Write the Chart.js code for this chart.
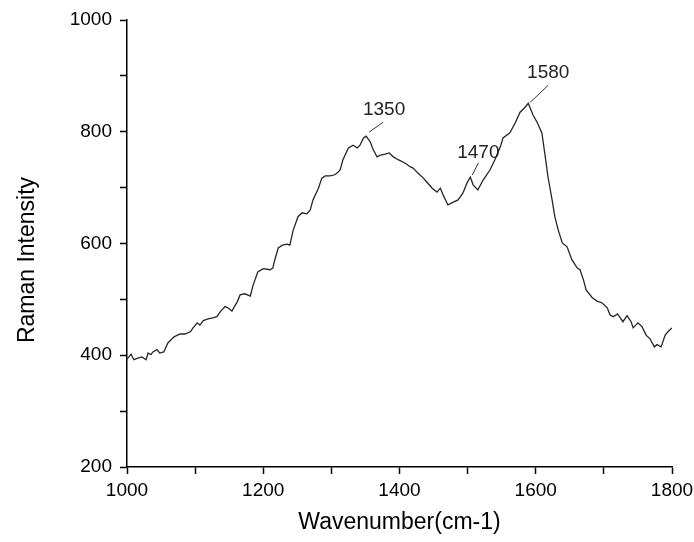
<!DOCTYPE html>
<html lang="en">
<head>
  <meta charset="UTF-8">
  <title>Raman Spectrum</title>
  <script src="https://cdn.jsdelivr.net/npm/chart.js"></script>
  <style>
    body { margin: 0; background: #fff; }
  </style>
</head>
<body>
  <canvas id="ramanChart" width="694" height="542"></canvas>
  <script>
    // Values
    const wavenumbers = [1000, 1006, 1010, 1016, 1022, 1028, 1031, 1035, 1038, 1044, 1048, 1054, 1060, 1069, 1078, 1085, 1093, 1097, 1103, 1107,
      1112, 1119, 1126, 1132, 1137, 1144, 1148, 1154, 1162, 1166, 1173, 1181, 1185, 1192, 1200, 1210, 1214, 1217, 1222, 1228,
      1235, 1239, 1244, 1251, 1257, 1264, 1269, 1273, 1281, 1286, 1291, 1298, 1305, 1310, 1313, 1317, 1325, 1332, 1338, 1342,
      1347, 1351, 1357, 1361, 1367, 1372, 1379, 1385, 1391, 1398, 1408, 1416, 1420, 1427, 1435, 1440, 1448, 1455, 1460, 1464,
      1471, 1479, 1486, 1493, 1499, 1504, 1508, 1515, 1523, 1533, 1540, 1548, 1552, 1562, 1570, 1577, 1583, 1589, 1596, 1602,
      1609, 1614, 1618, 1624, 1628, 1633, 1639, 1646, 1653, 1661, 1665, 1670, 1674, 1683, 1690, 1697, 1705, 1709, 1714, 1720,
      1724, 1728, 1734, 1740, 1743, 1750, 1756, 1762, 1768, 1774, 1778, 1784, 1790, 1794, 1800];
    const intensity = [393, 402, 392, 395, 397, 392, 404, 401, 406, 410, 404, 406, 422, 433, 438, 438, 442, 449, 458, 454,
      462, 465, 467, 469, 478, 487, 485, 479, 496, 508, 510, 506, 525, 549, 555, 553, 556, 571, 592, 597,
      599, 597, 624, 648, 655, 653, 660, 678, 699, 717, 721, 721, 723, 728, 732, 750, 771, 776, 771, 776,
      789, 792, 782, 769, 755, 758, 760, 762, 755, 750, 744, 737, 735, 726, 717, 710, 699, 692, 699, 687,
      669, 674, 678, 690, 708, 719, 705, 696, 714, 732, 750, 773, 789, 798, 816, 835, 842, 851, 830, 817,
      798, 755, 719, 678, 648, 624, 601, 594, 571, 556, 553, 535, 517, 503, 497, 494, 485, 472, 469, 474,
      467, 460, 471, 460, 449, 458, 451, 436, 429, 415, 419, 415, 436, 442, 449];

    // Peak annotations
    const peakNames = ['1350', '1470', '1580'];
    const peakX = [1351, 1504, 1589];
    const peakY = [792, 719, 851];

    const yTitle = 'Raman Intensity';
    const points = wavenumbers.map((x, i) => ({ x: x, y: intensity[i] }));
    const fontFamily = '"Liberation Sans", Arial, sans-serif';

    const labelsPlugin = {
      id: 'peakLabels',
      afterDraw(chart) {
        const ctx = chart.ctx;
        const xs = chart.scales.x, ys = chart.scales.y;
        // pixel offsets: leader line start, leader line end, text centre
        const startOff = [[3, -4], [2, -2], [2, -1]];
        const endOff = [[17, -14], [8, -14], [20, -18]];
        const textOff = [[18, -26], [8, -24], [20, -30]];
        ctx.save();
        ctx.strokeStyle = '#333';
        ctx.lineWidth = 1;
        ctx.fillStyle = '#222';
        ctx.font = '19px ' + fontFamily;
        ctx.textAlign = 'center';
        ctx.textBaseline = 'middle';
        peakNames.forEach((name, i) => {
          const px = xs.getPixelForValue(peakX[i]);
          const py = ys.getPixelForValue(peakY[i]);
          ctx.beginPath();
          ctx.moveTo(px + startOff[i][0], py + startOff[i][1]);
          ctx.lineTo(px + endOff[i][0], py + endOff[i][1]);
          ctx.stroke();
          ctx.fillText(name, px + textOff[i][0], py + textOff[i][1]);
        });

        // y axis title, sits a little below the axis middle in the reference
        ctx.fillStyle = '#000';
        ctx.font = '23px ' + fontFamily;
        ctx.translate(28, 260);
        ctx.rotate(-Math.PI / 2);
        ctx.fillText(yTitle, 0, 0);
        ctx.restore();
      }
    };

    const tickFont = { family: fontFamily, size: 19 };
    const titleFont = { family: fontFamily, size: 23 };

    const ctx = document.getElementById('ramanChart').getContext('2d');
    new Chart(ctx, {
      type: 'line',
      data: {
        datasets: [{
          data: points,
          borderColor: '#262626',
          borderWidth: 1.3,
          pointRadius: 0,
          tension: 0,
          fill: false
        }]
      },
      options: {
        responsive: false,
        animation: false,
        layout: { padding: { left: 0, top: 20, right: 0, bottom: 0 } },
        plugins: {
          legend: { display: false },
          tooltip: { enabled: false }
        },
        scales: {
          x: {
            type: 'linear',
            min: 1000,
            max: 1800,
            afterFit: (scale) => {
              scale.height = 542 - 467;
              scale.paddingLeft = 0;
              scale.paddingRight = 22;
            },
            border: { display: true, color: '#000', width: 1.5 },
            grid: { drawOnChartArea: false, drawTicks: true, tickLength: 7, tickColor: '#000', tickWidth: 1.5 },
            ticks: {
              stepSize: 100,
              autoSkip: false,
              maxRotation: 0,
              padding: 5,
              color: '#000',
              font: tickFont,
              callback: (v) => (v % 200 === 0 ? v : '')
            },
            title: {
              display: true,
              text: 'Wavenumber(cm-1)',
              color: '#000',
              font: titleFont,
              padding: { top: 4, bottom: 6 }
            }
          },
          y: {
            min: 200,
            max: 1000,
            afterFit: (scale) => { scale.width = 127; },
            border: { display: true, color: '#000', width: 1.5 },
            grid: { drawOnChartArea: false, drawTicks: true, tickLength: 7, tickColor: '#000', tickWidth: 1.5 },
            ticks: {
              stepSize: 100,
              autoSkip: false,
              padding: 8,
              color: '#000',
              font: tickFont,
              callback: (v) => (v % 200 === 0 ? v : '')
            }
          }
        }
      },
      plugins: [labelsPlugin]
    });
  </script>
</body>
</html>
